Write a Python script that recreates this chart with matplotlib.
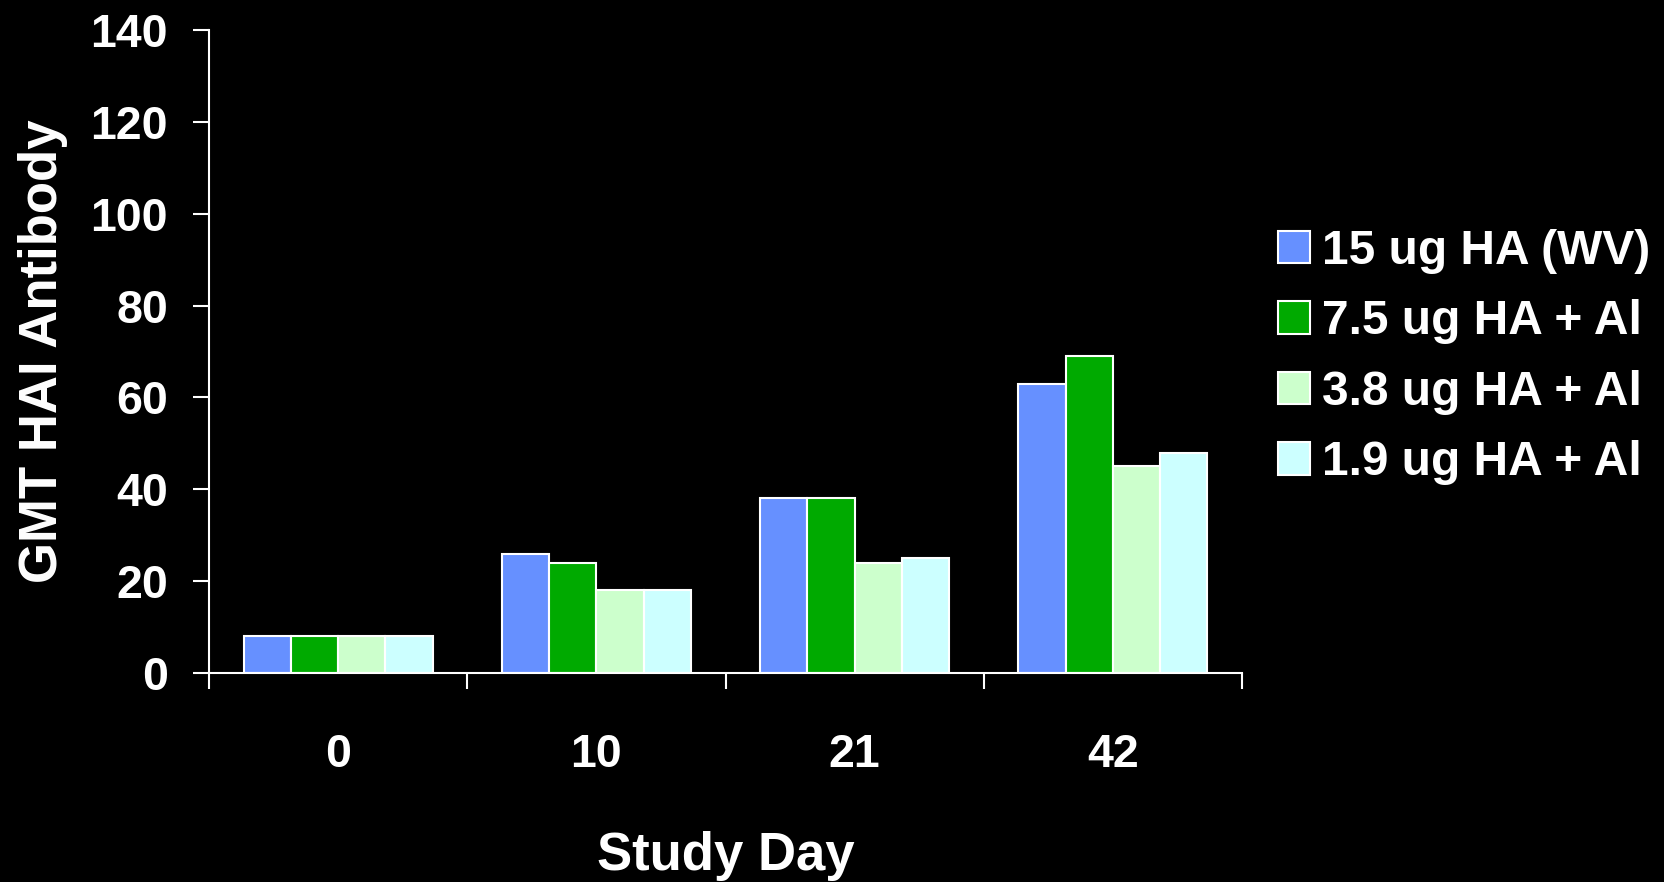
import matplotlib
matplotlib.use('Agg')
import matplotlib.pyplot as plt
import numpy as np

# study days and GMT values per dose group
days = ['0', '10', '21', '42']
groups = ['15 ug HA (WV)', '7.5 ug HA + Al', '3.8 ug HA + Al', '1.9 ug HA + Al']
ha_15_wv = [8, 26, 38, 63]
ha_75_al = [8, 24, 38, 69]
ha_38_al = [8, 18, 24, 45]
ha_19_al = [8, 18, 25, 48]
colors = ['#6690FF', '#00AA00', '#CCFFCC', '#CCFFFF']

plt.rcParams['font.family'] = ['Liberation Sans', 'DejaVu Sans']
plt.rcParams['font.weight'] = 'bold'

fig = plt.figure(figsize=(16.65, 8.82), dpi=100, facecolor='black')
ax = fig.add_axes([0.1255, 0.237, 0.6205, 0.729])
ax.set_facecolor('black')

x = np.arange(len(days))
width = 0.183
series = [ha_15_wv, ha_75_al, ha_38_al, ha_19_al]
for i, vals in enumerate(series):
    ax.bar(x + (i - 1.5) * width, vals, width, color=colors[i],
           edgecolor='white', linewidth=1.5, label=groups[i])

ax.set_xlim(-0.5, 3.5)
ax.set_ylim(0, 140)
ax.set_yticks(range(0, 141, 20))
ax.set_xticks(x)
ax.set_xticklabels(days)
ax.set_xticks(np.arange(-0.5, 3.6, 1), minor=True)

for side in ['top', 'right']:
    ax.spines[side].set_visible(False)
for side in ['left', 'bottom']:
    ax.spines[side].set_color('white')
    ax.spines[side].set_linewidth(1.5)

ax.tick_params(axis='y', colors='white', labelsize=33.5, length=11.5, width=1.5, pad=18)
ax.tick_params(axis='x', which='major', colors='white', labelsize=33.5, length=0, pad=43)
ax.tick_params(axis='x', which='minor', colors='white', length=11.5, width=1.5)

ax.set_xlabel('Study Day', color='white', fontsize=38, fontweight='bold', labelpad=39)
ax.set_ylabel('GMT HAI Antibody', color='white', fontsize=38, fontweight='bold', labelpad=16)

leg = ax.legend(loc='upper left', bbox_to_anchor=(1278 / 1665, 1 - 229 / 882),
                bbox_transform=fig.transFigure, frameon=False, fontsize=34.5,
                handlelength=0.67, handleheight=0.67, handletextpad=0.25,
                labelspacing=0.53, borderpad=0, borderaxespad=0)
for t in leg.get_texts():
    t.set_color('white')
    t.set_fontweight('bold')

fig.savefig('out.png', dpi=100, facecolor='black')
